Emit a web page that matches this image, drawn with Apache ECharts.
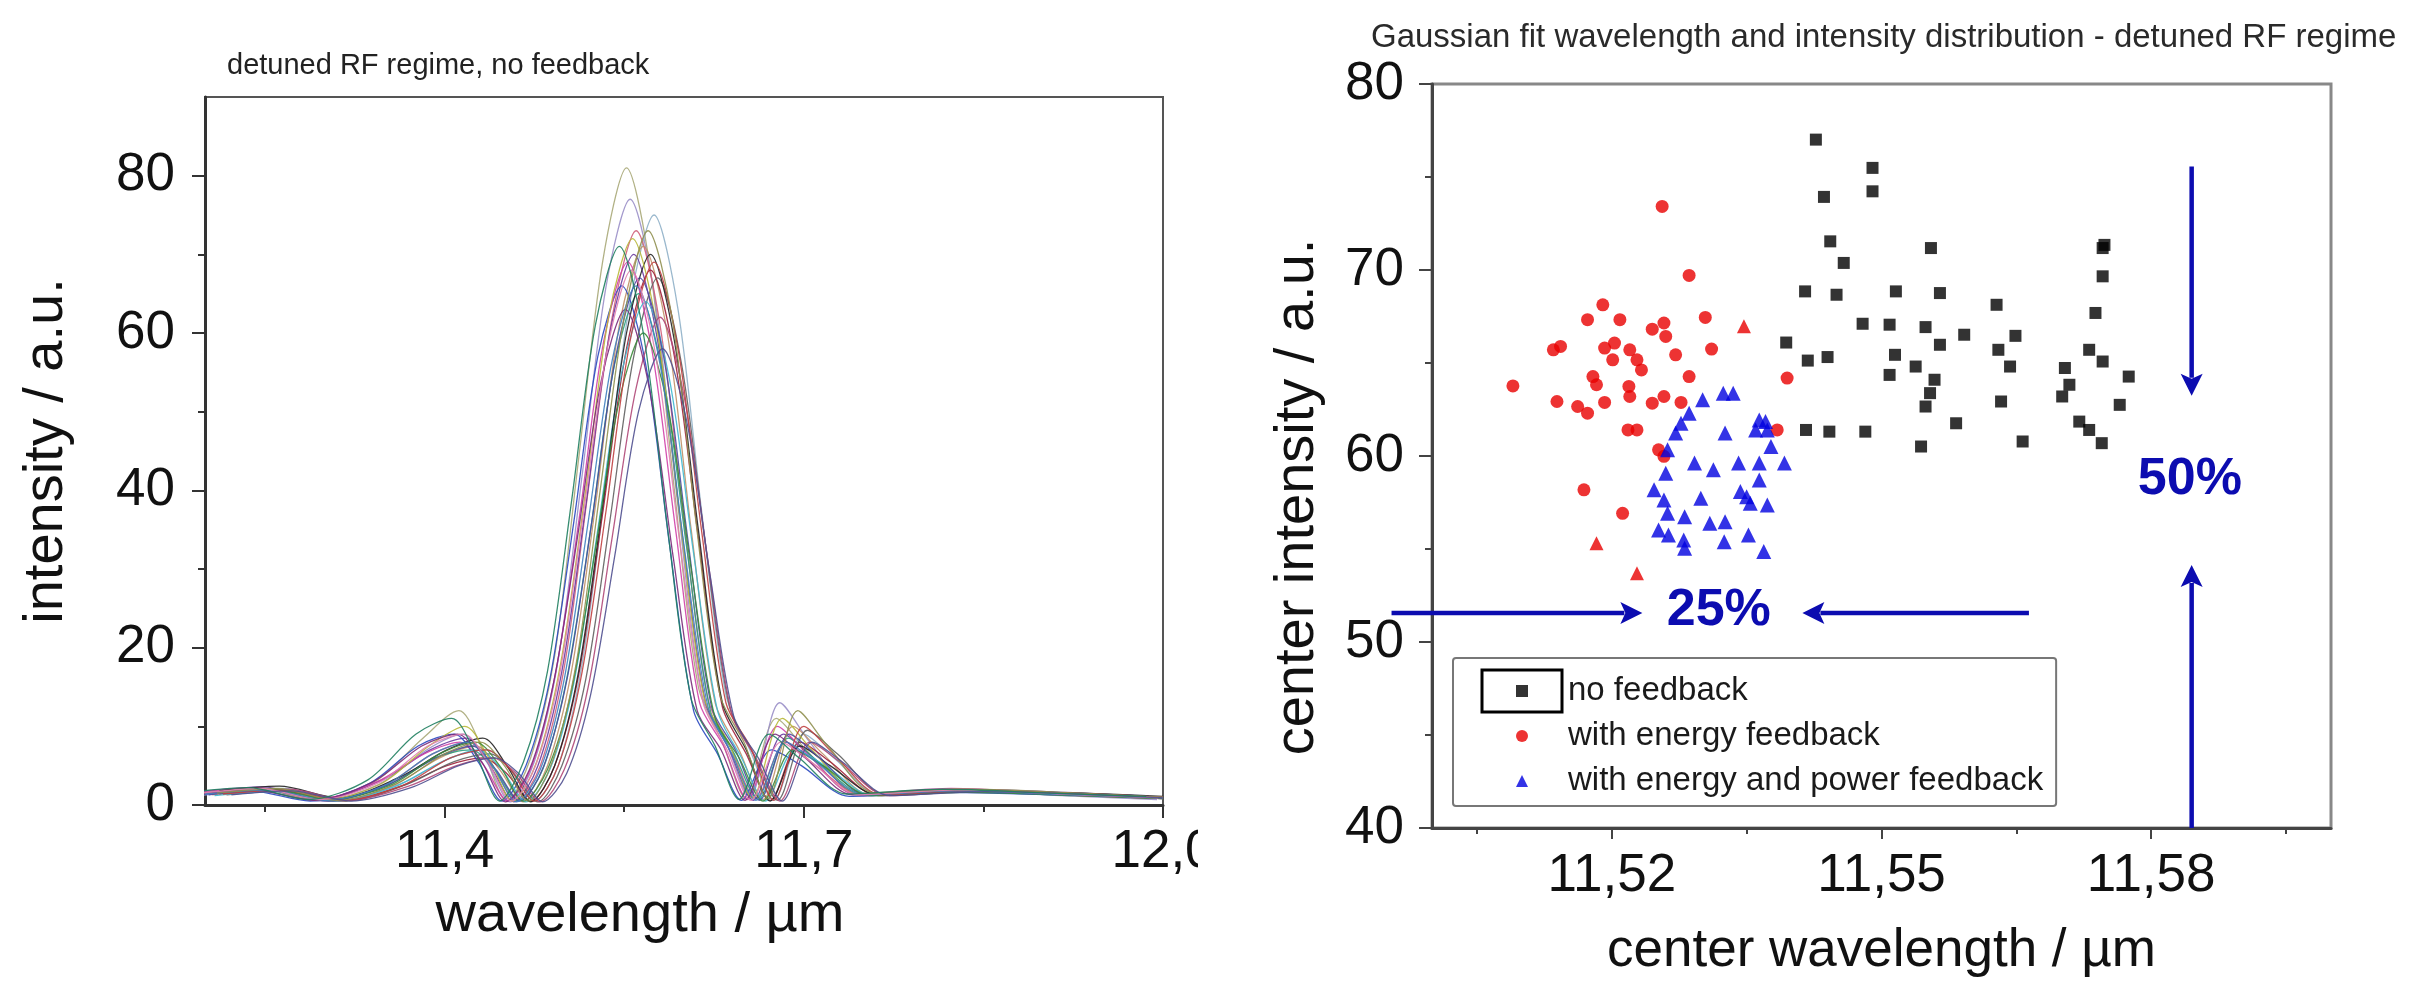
<!DOCTYPE html>
<html><head><meta charset="utf-8">
<script src="https://cdn.jsdelivr.net/npm/echarts@6/dist/echarts.min.js"></script>
<style>
html,body{margin:0;padding:0;background:#fff;width:2417px;height:983px;overflow:hidden}
#left{position:absolute;left:0;top:0;width:1198px;height:983px;overflow:hidden}
#right{position:absolute;left:1207px;top:0;width:1210px;height:983px}
</style>
</head><body><div id="left"></div><div id="right"></div>
<script>
// ---------------- LEFT CHART DATA (spectra, wavelength µm vs intensity a.u.) ----------------
const leftXLabelTicks = [11.4, 11.7, 12.0];
const leftXMinorTicks = [11.25, 11.55, 11.85];
const leftYLabelTicks = [0, 20, 40, 60, 80];
const leftYMinorTicks = [10, 30, 50, 70];

const spectrum1 = [[11.192,1.4],[11.242,2.2],[11.292,0.6],[11.342,3.0],[11.382,8.5],[11.412,12],[11.432,7],[11.452,0.5],[11.472,6],[11.492,19],[11.512,44],[11.532,69],[11.552,81],[11.572,68],[11.592,40],[11.612,15],[11.632,8],[11.652,0.8],[11.677,11],[11.702,7],[11.742,1.5],[11.822,2.0],[11.912,1.4],[11.992,0.9]];
const spectrum2 = [[11.195,1.2],[11.245,1.8],[11.295,0.5],[11.345,2.6],[11.385,7],[11.415,9],[11.435,5.5],[11.455,0.4],[11.475,5.5],[11.495,18.5],[11.515,42],[11.535,66],[11.555,77],[11.575,65],[11.595,38],[11.615,14],[11.635,8],[11.655,1],[11.68,13],[11.705,8],[11.745,1.4],[11.825,1.9],[11.915,1.2],[11.995,0.7]];
const spectrum3 = [[11.215,1.6],[11.265,2.1],[11.315,0.7],[11.365,2.8],[11.405,6],[11.435,7],[11.455,4.5],[11.475,0.5],[11.495,5],[11.515,18],[11.535,41],[11.555,64],[11.575,75],[11.595,63],[11.615,37],[11.635,14],[11.655,7],[11.675,0.6],[11.70,9],[11.725,6],[11.765,1.2],[11.845,1.8],[11.935,1.3],[12.0,0.9]];
const spectrum4 = [[11.20,1.5],[11.25,2.0],[11.30,0.6],[11.35,2.5],[11.39,6.5],[11.42,8],[11.44,5],[11.46,0.5],[11.48,5],[11.50,17.5],[11.52,40],[11.54,62],[11.56,73],[11.58,61],[11.60,36],[11.62,13.5],[11.64,7],[11.66,0.8],[11.685,8],[11.71,5],[11.75,1.2],[11.83,1.8],[11.92,1.3],[12.0,0.8]];
const spectrum5 = [[11.206,1.3],[11.256,1.9],[11.306,0.5],[11.356,2.4],[11.396,6],[11.426,7.5],[11.446,4.5],[11.466,0.4],[11.486,5],[11.506,17],[11.526,38],[11.546,61],[11.566,71],[11.586,60],[11.606,35],[11.626,13],[11.646,7],[11.666,0.7],[11.691,10],[11.716,6.5],[11.756,1.3],[11.836,1.9],[11.926,1.4],[12.0,0.9]];
const spectrum6 = [[11.198,1.7],[11.248,2.3],[11.298,0.8],[11.348,3.2],[11.388,7],[11.418,8.5],[11.438,5],[11.458,0.4],[11.478,5],[11.498,17],[11.518,38],[11.538,60],[11.558,70],[11.578,59],[11.598,35],[11.618,13],[11.638,7],[11.658,0.6],[11.683,9],[11.708,6],[11.748,1.4],[11.828,2.0],[11.918,1.6],[11.998,1.0]];
const spectrum7 = [[11.212,1.4],[11.262,1.9],[11.312,0.5],[11.362,2.3],[11.402,5],[11.432,6],[11.452,4],[11.472,0.5],[11.492,5],[11.512,16.5],[11.532,37],[11.552,58],[11.572,68],[11.592,57],[11.612,34],[11.632,12.5],[11.652,6.5],[11.672,0.6],[11.697,8],[11.722,5.5],[11.762,1.2],[11.842,1.7],[11.932,1.2],[12.0,0.8]];
const spectrum8 = [[11.188,1.2],[11.238,1.8],[11.288,0.5],[11.338,2.8],[11.378,7.5],[11.408,9],[11.428,5.5],[11.448,0.5],[11.468,5],[11.488,16],[11.508,36],[11.528,57],[11.548,66],[11.568,56],[11.588,33],[11.608,12],[11.628,6.5],[11.648,0.6],[11.673,7],[11.698,5],[11.738,1.1],[11.818,1.6],[11.908,1.3],[11.988,1.2]];
const spectrum9 = [[11.202,1.5],[11.252,2.0],[11.302,0.6],[11.352,2.5],[11.392,6],[11.422,7],[11.442,4.5],[11.462,0.5],[11.482,4.5],[11.502,16],[11.522,35],[11.542,56],[11.562,65],[11.582,55],[11.602,33],[11.622,12],[11.642,6.5],[11.662,0.7],[11.687,8.5],[11.712,5.5],[11.752,1.3],[11.832,1.8],[11.922,1.4],[12.0,0.9]];
const spectrum10 = [[11.218,1.3],[11.268,1.8],[11.318,0.5],[11.368,2.6],[11.408,5.5],[11.438,6.5],[11.458,4],[11.478,0.4],[11.498,5],[11.518,16],[11.538,36],[11.558,57],[11.578,67],[11.598,56],[11.618,33],[11.638,12.5],[11.658,6.5],[11.678,0.6],[11.703,9.5],[11.728,6.5],[11.768,1.4],[11.848,1.9],[11.938,1.3],[12.0,0.9]];
const spectrum11 = [[11.193,1.6],[11.243,2.2],[11.293,0.7],[11.343,2.9],[11.383,6.5],[11.413,8],[11.433,5],[11.453,0.5],[11.473,5],[11.493,17],[11.513,37],[11.533,59],[11.553,69],[11.573,58],[11.593,35],[11.613,13],[11.633,7.5],[11.653,0.7],[11.678,10],[11.703,6.5],[11.743,1.4],[11.823,2.1],[11.913,1.5],[11.993,1.0]];
const spectrum12 = [[11.208,1.2],[11.258,1.7],[11.308,0.5],[11.358,2.3],[11.398,5.5],[11.428,7],[11.448,4.5],[11.468,0.4],[11.488,4.5],[11.508,15.5],[11.528,35],[11.548,55],[11.568,64],[11.588,54],[11.608,32],[11.628,12],[11.648,6],[11.668,0.5],[11.693,7],[11.718,5],[11.758,1.2],[11.838,1.7],[11.928,1.3],[12.0,0.8]];
const spectrum13 = [[11.212,1.8],[11.262,2.4],[11.312,0.9],[11.362,3.5],[11.402,7],[11.432,8.5],[11.452,5],[11.472,0.4],[11.492,5],[11.512,17],[11.532,38],[11.552,60],[11.572,70],[11.592,59],[11.612,35],[11.632,13],[11.652,7],[11.672,0.5],[11.697,7.5],[11.722,5],[11.762,1.3],[11.842,1.8],[11.932,1.5],[12.0,1.1]];
const spectrum14 = [[11.197,1.4],[11.247,2.0],[11.297,0.6],[11.347,2.7],[11.387,7.5],[11.417,10],[11.437,6],[11.457,0.5],[11.477,5.5],[11.497,18],[11.517,39],[11.537,62],[11.557,72],[11.577,61],[11.597,36],[11.617,13.5],[11.637,8],[11.657,0.9],[11.682,11],[11.707,7],[11.747,1.4],[11.827,2.0],[11.917,1.4],[11.997,0.9]];
const spectrum15 = [[11.220,1.5],[11.270,2.0],[11.320,0.6],[11.370,2.4],[11.410,5],[11.440,6],[11.460,4],[11.480,0.4],[11.500,4.5],[11.520,15],[11.540,34],[11.560,53],[11.580,62],[11.600,52],[11.620,31],[11.640,11.5],[11.660,6],[11.680,0.5],[11.705,8],[11.730,5.5],[11.770,1.2],[11.850,1.8],[11.940,1.4],[12.0,1.0]];
const spectrum16 = [[11.203,1.3],[11.253,1.9],[11.303,0.5],[11.353,2.6],[11.393,6],[11.423,7.5],[11.443,4.5],[11.463,0.5],[11.483,5],[11.503,16.5],[11.523,36],[11.543,57],[11.563,67],[11.583,57],[11.603,34],[11.623,12.5],[11.643,7],[11.663,0.6],[11.688,9],[11.713,6],[11.753,1.3],[11.833,1.9],[11.923,1.4],[12.0,0.9]];
const spectrum17 = [[11.206,1.6],[11.256,2.0],[11.306,0.7],[11.356,2.6],[11.396,6.5],[11.426,8],[11.446,5],[11.466,0.5],[11.486,4.5],[11.506,14.5],[11.526,32.5],[11.546,51.5],[11.566,60],[11.586,51],[11.606,30],[11.626,11],[11.646,6],[11.666,0.5],[11.691,7],[11.716,5],[11.756,1.2],[11.836,1.6],[11.926,1.2],[12.0,0.8]];
const spectrum18 = [[11.191,1.3],[11.241,1.9],[11.291,0.6],[11.341,3.0],[11.381,7.5],[11.411,9],[11.431,5.5],[11.451,0.4],[11.471,4.5],[11.491,15.5],[11.511,34],[11.531,54],[11.551,63],[11.571,53],[11.591,31.5],[11.611,12],[11.631,7],[11.651,0.6],[11.676,9],[11.701,6],[11.741,1.3],[11.821,1.9],[11.911,1.4],[11.991,1.0]];
const spectrum19 = [[11.215,1.4],[11.265,1.9],[11.315,0.6],[11.365,2.5],[11.405,6],[11.435,7],[11.455,4.5],[11.475,0.5],[11.495,5],[11.515,17],[11.535,37.5],[11.555,59],[11.575,69],[11.595,58],[11.615,34.5],[11.635,13],[11.655,7.5],[11.675,0.6],[11.70,10],[11.725,6.5],[11.765,1.3],[11.845,1.9],[11.935,1.3],[12.0,0.9]];
const spectrum20 = [[11.20,1.4],[11.25,1.9],[11.30,0.6],[11.35,2.5],[11.39,6.5],[11.42,8],[11.44,5],[11.46,0.4],[11.48,4.5],[11.50,16],[11.52,36],[11.54,56.5],[11.56,66],[11.58,56],[11.60,33],[11.62,12.5],[11.64,6.5],[11.66,0.6],[11.685,8],[11.71,5.5],[11.75,1.3],[11.83,1.8],[11.92,1.3],[12.0,0.9]];
const spectrum21 = [[11.21,1.5],[11.26,2.1],[11.31,0.6],[11.36,2.7],[11.40,6.5],[11.43,8],[11.45,5],[11.47,0.5],[11.49,5.5],[11.51,18],[11.53,40],[11.55,62],[11.57,73],[11.59,62],[11.61,36],[11.63,14],[11.65,8],[11.67,0.8],[11.695,12],[11.72,7.5],[11.76,1.5],[11.84,2.0],[11.93,1.5],[12.0,1.0]];
const spectrum22 = [[11.196,1.5],[11.246,2.1],[11.296,0.7],[11.346,2.9],[11.386,7.5],[11.416,9],[11.436,5.5],[11.456,0.5],[11.476,5],[11.496,16.5],[11.516,37],[11.536,58],[11.556,68],[11.576,57.5],[11.596,34],[11.616,13],[11.636,7],[11.656,0.6],[11.681,8],[11.706,5.5],[11.746,1.3],[11.826,1.9],[11.916,1.4],[11.996,0.9]];
const spectrum23 = [[11.222,1.3],[11.272,1.8],[11.322,0.5],[11.372,2.2],[11.412,5],[11.442,6],[11.462,4],[11.482,0.4],[11.502,4],[11.522,14],[11.542,31.5],[11.562,50],[11.582,58],[11.602,49],[11.622,29],[11.642,11],[11.662,6],[11.682,0.5],[11.707,8],[11.732,5.5],[11.772,1.2],[11.852,1.7],[11.942,1.3],[12.0,0.9]];
const spectrum24 = [[11.186,1.6],[11.236,2.2],[11.286,0.7],[11.336,3.2],[11.376,9],[11.406,11],[11.426,6.5],[11.446,0.5],[11.466,5.5],[11.486,17],[11.506,38.5],[11.526,61],[11.546,71],[11.566,60],[11.586,35.5],[11.606,13.5],[11.626,7.5],[11.646,0.7],[11.671,9],[11.696,6],[11.736,1.4],[11.816,2.0],[11.906,1.5],[11.986,1.1]];
const spectra = [spectrum1,spectrum2,spectrum3,spectrum4,spectrum5,spectrum6,spectrum7,spectrum8,spectrum9,spectrum10,spectrum11,spectrum12,spectrum13,spectrum14,spectrum15,spectrum16,spectrum17,spectrum18,spectrum19,spectrum20,spectrum21,spectrum22,spectrum23,spectrum24];
const spectrumColors = ['#a8a878','#9a8fc8','#8fb0c8','#d0607a','#c09068','#6a3aa0','#a02038','#2a48c0','#2aa080','#606060','#d040a8','#40b8d0','#222222','#b8b838','#b04878','#4a4aa0','#3a8a3a','#7a2a7a','#c04040','#4080c0','#909050','#e080b0','#505090','#208060'];

// ---------------- RIGHT CHART DATA (center wavelength µm vs center intensity a.u.) ----------------
const rightXLabelTicks = [11.52, 11.55, 11.58];
const rightXMinorTicks = [11.505, 11.535, 11.565, 11.595];
const rightYLabelTicks = [40, 50, 60, 70, 80];
const rightYMinorTicks = [45, 55, 65, 75];

const noFeedback = [[11.5427,77.01],[11.5490,75.49],[11.5490,74.23],[11.5436,73.93],[11.5443,71.54],[11.5458,70.38],[11.5415,68.85],[11.5450,68.67],[11.5516,68.85],[11.5555,71.18],[11.5565,68.76],[11.5628,68.13],[11.5746,71.18],[11.5748,71.35],[11.5746,69.66],[11.5738,67.69],[11.5479,67.11],[11.5509,67.06],[11.5549,66.93],[11.5592,66.52],[11.5649,66.46],[11.5394,66.10],[11.5418,65.13],[11.5440,65.32],[11.5515,65.44],[11.5538,64.81],[11.5565,65.98],[11.5630,65.71],[11.5643,64.81],[11.5704,64.73],[11.5731,65.71],[11.5746,65.08],[11.5775,64.27],[11.5509,64.36],[11.5559,64.10],[11.5554,63.38],[11.5549,62.66],[11.5709,63.83],[11.5701,63.20],[11.5633,62.93],[11.5765,62.75],[11.5416,61.40],[11.5442,61.31],[11.5482,61.31],[11.5583,61.76],[11.5544,60.51],[11.5657,60.78],[11.5720,61.85],[11.5731,61.40],[11.5745,60.69]];
const energyFeedback = [[11.5256,73.42],[11.5286,69.71],[11.5190,68.13],[11.5173,67.33],[11.5209,67.33],[11.5245,66.82],[11.5258,67.15],[11.5260,66.43],[11.5304,67.45],[11.5135,65.71],[11.5143,65.89],[11.5192,65.80],[11.5203,66.07],[11.5201,65.17],[11.5220,65.71],[11.5228,65.17],[11.5233,64.63],[11.5271,65.44],[11.5311,65.75],[11.5090,63.77],[11.5179,64.27],[11.5183,63.83],[11.5219,63.74],[11.5220,63.20],[11.5286,64.27],[11.5395,64.19],[11.5139,62.93],[11.5162,62.66],[11.5173,62.30],[11.5192,62.88],[11.5245,62.84],[11.5258,63.20],[11.5277,62.88],[11.5218,61.40],[11.5228,61.40],[11.5252,60.33],[11.5258,59.98],[11.5384,61.40],[11.5169,58.18],[11.5212,56.92]];
const energyFeedbackTriangles = [[11.5347,66.97],[11.5183,55.31],[11.5228,53.69]];
const energyPowerFeedback = [[11.5301,63.02],[11.5286,62.30],[11.5277,61.76],[11.5271,61.23],[11.5262,60.33],[11.5324,63.38],[11.5335,63.38],[11.5326,61.23],[11.5364,61.94],[11.5371,61.85],[11.5360,61.40],[11.5373,61.40],[11.5377,60.51],[11.5292,59.62],[11.5313,59.26],[11.5341,59.62],[11.5364,59.62],[11.5392,59.62],[11.5260,59.07],[11.5364,58.71],[11.5247,58.18],[11.5258,57.64],[11.5343,58.09],[11.5350,57.81],[11.5354,57.46],[11.5299,57.73],[11.5373,57.37],[11.5262,56.92],[11.5281,56.74],[11.5309,56.38],[11.5326,56.47],[11.5252,56.02],[11.5263,55.75],[11.5280,55.48],[11.5281,55.04],[11.5352,55.75],[11.5325,55.39],[11.5369,54.86]];

// annotations in data coordinates of the right chart
const arrowFrom = [[11.4955,51.56],[11.5664,51.56],[11.5845,75.56],[11.5845,40.0]];
const arrowTo   = [[11.5234,51.56],[11.5412,51.56],[11.5845,63.24],[11.5845,54.14]];
const percentLabels = ['25%','50%'];
const percentAt = [[11.5319,51.66],[11.5843,58.72]];

// ---------------- RENDER ----------------
const FONT = '"Liberation Sans", Arial, sans-serif';
const INK = '#111';
const commaFmt = d => v => Number(v).toFixed(d).replace('.', ',');

const leftChart = echarts.init(document.getElementById('left'), null, {renderer:'canvas'});
leftChart.setOption({
  animation:false,
  backgroundColor:'#fff',
  title:{text:'detuned RF regime, no feedback', left:222, top:46,
    textStyle:{fontSize:29, fontWeight:'normal', color:'#222', fontFamily:FONT}},
  grid:{left:205, right:35, top:97, bottom:178, containLabel:false, outerBoundsMode:'none',
    show:true, borderColor:'#555', borderWidth:2},
  xAxis:[
    {type:'value', min:11.2, max:12.0, position:'bottom',
     name:'wavelength / µm', nameLocation:'middle', nameGap:83,
     nameTextStyle:{fontSize:56, color:INK, fontFamily:FONT, padding:[0,88,0,0]},
     axisLine:{show:true, onZero:false, lineStyle:{color:'#333', width:3}},
     axisTick:{show:true, customValues:leftXLabelTicks, length:13, lineStyle:{color:'#333', width:2}},
     axisLabel:{customValues:leftXLabelTicks, fontSize:53, color:INK, fontFamily:FONT, margin:21, formatter:commaFmt(1)},
     splitLine:{show:false}},
    {type:'value', min:11.2, max:12.0, position:'bottom',
     axisLine:{show:false}, axisLabel:{show:false}, splitLine:{show:false},
     axisTick:{show:true, customValues:leftXMinorTicks, length:7, lineStyle:{color:'#333', width:2}}}
  ],
  yAxis:[
    {type:'value', min:0, max:90, position:'left',
     name:'intensity / a.u.', nameLocation:'middle', nameGap:130,
     nameTextStyle:{fontSize:56, color:INK, fontFamily:FONT},
     axisLine:{show:true, onZero:false, lineStyle:{color:'#333', width:3}},
     axisTick:{show:true, customValues:leftYLabelTicks, length:13, lineStyle:{color:'#333', width:2}},
     axisLabel:{customValues:leftYLabelTicks, fontSize:53, color:INK, fontFamily:FONT, margin:30},
     splitLine:{show:false}},
    {type:'value', min:0, max:90, position:'left',
     axisLine:{show:false}, axisLabel:{show:false}, splitLine:{show:false},
     axisTick:{show:true, customValues:leftYMinorTicks, length:7, lineStyle:{color:'#333', width:2}}}
  ],
  series: spectra.map((s, i) => ({
    type:'line', xAxisIndex:0, yAxisIndex:0, data:s, showSymbol:false, smooth:0.3, clip:true,
    lineStyle:{color:spectrumColors[i], width:1.3, opacity:0.9}, silent:true
  }))
});

const BLUE = '#0c0cb0';
const rightChart = echarts.init(document.getElementById('right'), null, {renderer:'canvas'});
rightChart.setOption({
  animation:false,
  backgroundColor:'#fff',
  title:{text:'Gaussian fit wavelength and intensity distribution - detuned RF regime', left:159, top:16,
    textStyle:{fontSize:33, fontWeight:'normal', color:'#2a2a2a', fontFamily:FONT}},
  grid:{left:225, right:86, top:84, bottom:155, containLabel:false, outerBoundsMode:'none',
    show:true, borderColor:'#888', borderWidth:3},
  legend:{
    left:246, top:658, orient:'vertical', selectedMode:false,
    backgroundColor:'#fff', borderColor:'#777', borderWidth:2, borderRadius:3,
    padding:[15,13,7,63], itemGap:9, itemWidth:12, itemHeight:12,
    textStyle:{fontSize:33, color:'#1a1a1a', fontFamily:FONT, lineHeight:36, padding:[0,0,0,35]},
    data:[{name:'no feedback', icon:'rect'},{name:'with energy feedback', icon:'circle'},{name:'with energy and power feedback', icon:'triangle'}]
  },
  xAxis:[
    {type:'value', min:11.5, max:11.6, position:'bottom',
     name:'center wavelength / µm', nameLocation:'middle', nameGap:97,
     nameTextStyle:{fontSize:53, color:INK, fontFamily:FONT},
     axisLine:{show:true, onZero:false, lineStyle:{color:'#444', width:3}},
     axisTick:{show:true, customValues:rightXLabelTicks, length:11, lineStyle:{color:'#444', width:2}},
     axisLabel:{customValues:rightXLabelTicks, fontSize:53, color:INK, fontFamily:FONT, margin:22, formatter:commaFmt(2)},
     splitLine:{show:false}},
    {type:'value', min:11.5, max:11.6, position:'bottom',
     axisLine:{show:false}, axisLabel:{show:false}, splitLine:{show:false},
     axisTick:{show:true, customValues:rightXMinorTicks, length:6, lineStyle:{color:'#444', width:2}}}
  ],
  yAxis:[
    {type:'value', min:40, max:80, position:'left',
     name:'center intensity / a.u.', nameLocation:'middle', nameGap:106,
     nameTextStyle:{fontSize:56, color:INK, fontFamily:FONT, padding:[0,82,0,0]},
     axisLine:{show:true, onZero:false, lineStyle:{color:'#444', width:3}},
     axisTick:{show:true, customValues:rightYLabelTicks, length:13, lineStyle:{color:'#444', width:2}},
     axisLabel:{customValues:rightYLabelTicks, fontSize:53, color:INK, fontFamily:FONT, margin:28},
     splitLine:{show:false}},
    {type:'value', min:40, max:80, position:'left',
     axisLine:{show:false}, axisLabel:{show:false}, splitLine:{show:false},
     axisTick:{show:true, customValues:rightYMinorTicks, length:7, lineStyle:{color:'#444', width:2}}}
  ],
  series:[
    {name:'no feedback', type:'scatter', data:noFeedback, symbol:'rect', symbolSize:12, itemStyle:{color:'#000'}},
    {name:'with energy feedback', type:'scatter', data:energyFeedback, symbol:'circle', symbolSize:13, itemStyle:{color:'#e80000'}},
    {name:'with energy feedback', type:'scatter', data:energyFeedbackTriangles, symbol:'triangle', symbolSize:14, itemStyle:{color:'#e80000'}},
    {name:'with energy and power feedback', type:'scatter', data:energyPowerFeedback, symbol:'triangle', symbolSize:15, itemStyle:{color:'#0000e0'}}
  ]
});

// annotation arrows / labels placed through the chart's own scales
const els = [];
arrowFrom.forEach((f, i) => {
  const p0 = rightChart.convertToPixel({gridIndex:0}, f);
  const p1 = rightChart.convertToPixel({gridIndex:0}, arrowTo[i]);
  const dx = p1[0]-p0[0], dy = p1[1]-p0[1], len = Math.hypot(dx, dy);
  const ux = dx/len, uy = dy/len, head = 22, half = 11;
  const bx = p1[0]-ux*head, by = p1[1]-uy*head;
  els.push({type:'line', z:50, shape:{x1:p0[0], y1:p0[1], x2:bx+ux*4, y2:by+uy*4}, style:{stroke:BLUE, lineWidth:4.5}});
  els.push({type:'polygon', z:50, shape:{points:[[p1[0],p1[1]],[bx-uy*half, by+ux*half],[bx+ux*5, by+uy*5],[bx+uy*half, by-ux*half]]}, style:{fill:BLUE}});
});
percentLabels.forEach((t, i) => {
  const p = rightChart.convertToPixel({gridIndex:0}, percentAt[i]);
  els.push({type:'text', z:50, x:p[0], y:p[1], style:{text:t, fill:BLUE, fontSize:52, fontWeight:'bold', fontFamily:FONT, align:'center', verticalAlign:'middle'}});
});
// selection frame around the first legend symbol (as in the original figure)
els.push({type:'rect', z:60, shape:{x:275, y:670, width:80, height:42}, style:{fill:'none', stroke:'#000', lineWidth:3}});
rightChart.setOption({graphic:els});
</script></body></html>
